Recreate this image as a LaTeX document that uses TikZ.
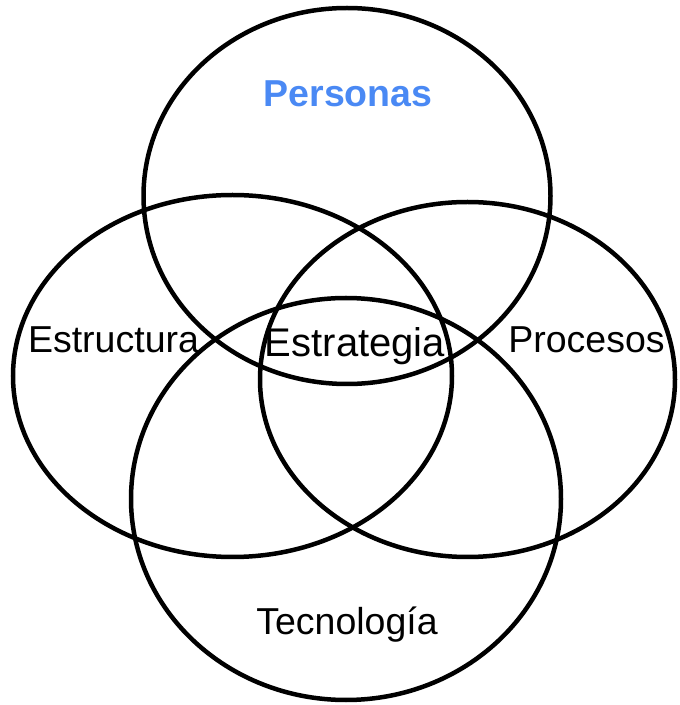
\documentclass[tikz,border=0pt]{standalone}
\usepackage{fontspec}
\setmainfont{Liberation Sans}
\definecolor{persblue}{RGB}{74,137,244}
\begin{document}
\begin{tikzpicture}[x=1pt,y=1pt,
  ring/.style={draw=black,line width=4.5pt},
  lbl/.style={anchor=base,inner sep=0pt,font=\fontsize{37.5}{42}\selectfont}]
\useasboundingbox (0,0) rectangle (680,705);
\draw[ring] (347,509) ellipse [x radius=203.5,y radius=188];
\draw[ring] (232.5,329) ellipse [x radius=219.5,y radius=181];
\draw[ring] (467.5,325.5) ellipse [x radius=207.5,y radius=177.5];
\draw[ring] (346,206) ellipse [x radius=215,y radius=201];
\node[lbl,font=\fontsize{37.5}{42}\selectfont\bfseries,text=persblue] (pers) at (348,598) {Personas};
\node[lbl] (estru) at (113.5,352) {Estructura};
\node[lbl,font=\fontsize{40}{44}\selectfont] (estra) at (355,348) {Estrategia};
\node[lbl] (proc) at (586.5,352) {Procesos};
\node[lbl] (tec) at (347,70) {Tecnología};
\end{tikzpicture}
\end{document}
